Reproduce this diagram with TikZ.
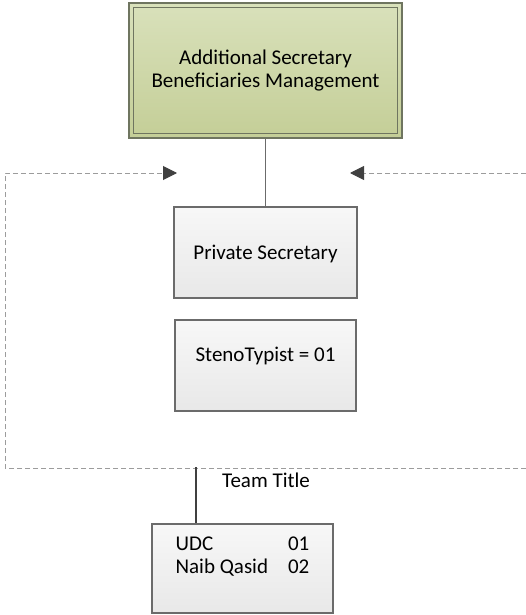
\documentclass[tikz,border=0pt]{standalone}
\usepackage{fontspec}
\setmainfont{Carlito}
\usetikzlibrary{arrows.meta,positioning,calc}
\definecolor{boxline}{HTML}{6B6B6B}
\definecolor{dashgray}{HTML}{9C9C9C}
\definecolor{tipgray}{HTML}{404040}
\definecolor{olivetop}{HTML}{D9E1BB}
\definecolor{olivebot}{HTML}{C4CE97}
\definecolor{oliveline}{HTML}{6F7560}

\begin{document}
\begin{tikzpicture}[x=1pt,y=-1pt,
    every node/.style={font=\fontsize{21}{23}\selectfont},
    postbox/.style={rectangle, draw=boxline, line width=1.2pt,
      top color=white!97!black, bottom color=white!91!black,
      minimum width=182pt, minimum height=91pt, inner sep=0pt,
      text height=14pt, text depth=0pt},
    headbox/.style={rectangle, draw=oliveline, line width=1.2pt,
      top color=olivetop, bottom color=olivebot,
      minimum width=273pt, minimum height=135pt, align=center},
    frameline/.style={draw=dashgray, line width=1pt,
      dash pattern=on 5pt off 3pt},
    pointer/.style={-{Triangle[length=14pt,width=14pt,color=tipgray]}}]
  \useasboundingbox (0,0) rectangle (526,615);

  % boxes
  \node[headbox] (AS) at (265.5,70.5)
    {Additional Secretary\\Beneficiaries Management};
  \draw[oliveline, line width=1.2pt] ($(AS.north west)+(5,5)$)
    rectangle ($(AS.south east)+(-5,-5)$);
  \node[postbox, minimum width=183pt] (PS) at (265.5,252.5) {Private Secretary};
  \node[postbox, minimum width=181pt, text depth=23pt] (ST) at (265.5,365.5)
    {StenoTypist = 01};
  \node[postbox, minimum width=181pt, minimum height=89pt, text depth=51pt]
    (TB) at (242.5,568.5)
    {\begin{tabular}[t]{@{}l@{\hspace{20pt}}l@{}}
      UDC & 01\\
      Naib Qasid & 02
    \end{tabular}};
  \node (TT) at (266,480) {Team Title};

  % dashed frame
  \coordinate (fRb) at (526,468); \coordinate (fLb) at (5,468);
  \coordinate (fLt) at (5,173); \coordinate (tipL) at (177,173);
  \coordinate (fRt) at (526,173); \coordinate (tipR) at (350,173);
  \draw[frameline, pointer] (fRb) -- (fLb) -- (fLt) -- (tipL);
  \draw[frameline, pointer] (fRt) -- (tipR);

  % connectors
  \draw[boxline, line width=1.2pt] (AS) -- (PS);
  \coordinate (tl) at (196,467);
  \draw[tipgray, line width=2pt] (tl) -- (tl |- TB.north);
\end{tikzpicture}
\end{document}
